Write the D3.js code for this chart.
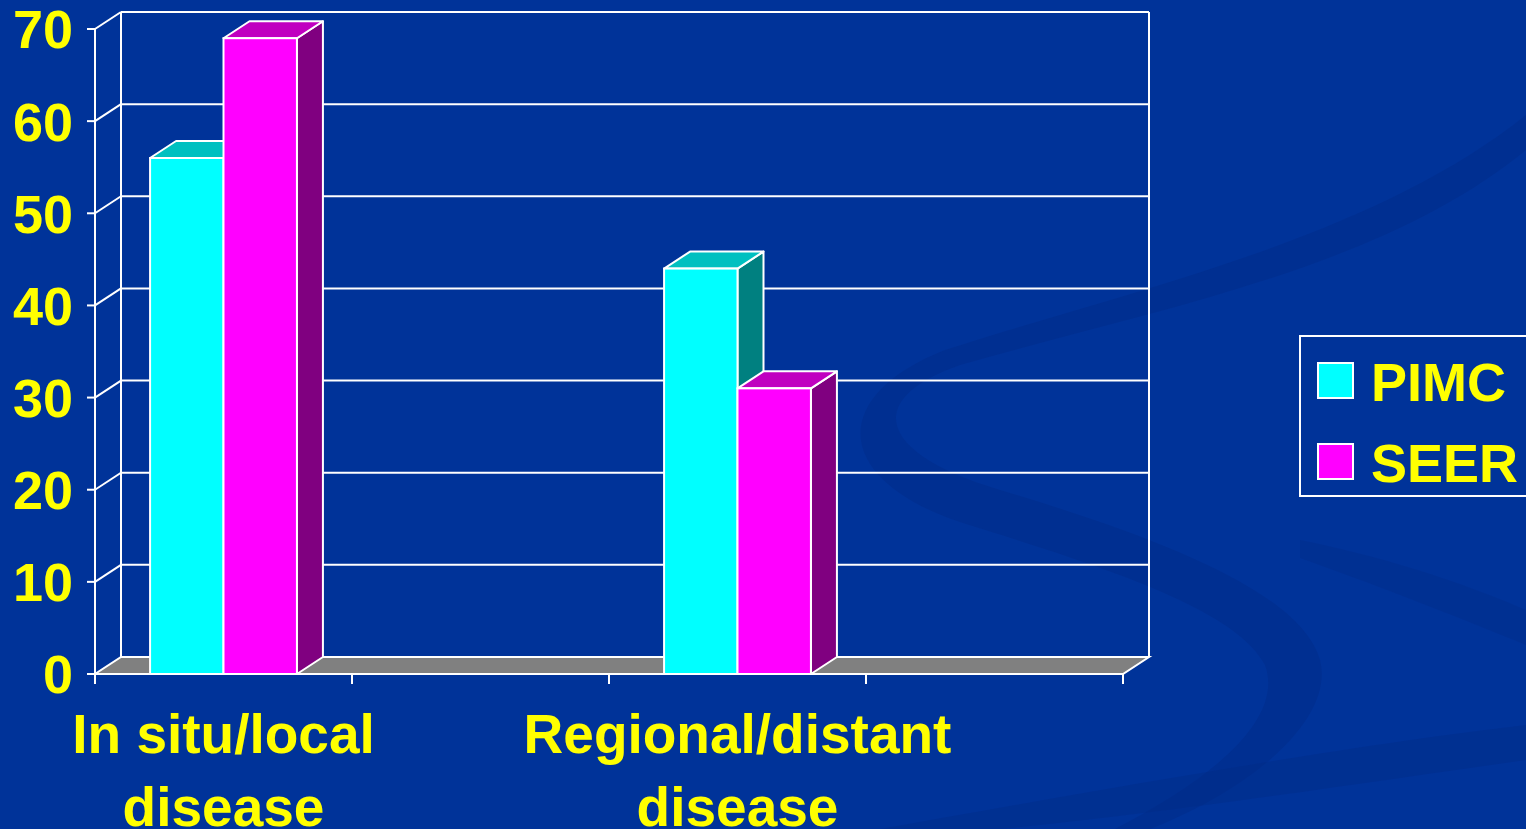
<!DOCTYPE html>
<html>
<head>
<meta charset="utf-8">
<script src="https://cdn.jsdelivr.net/npm/d3@7"></script>
<style>
  html, body { margin: 0; padding: 0; background: #003399; overflow: hidden; }
  svg { display: block; }
  text { font-family: "Liberation Sans", Arial, sans-serif; font-weight: bold; fill: #ffff00; }
</style>
</head>
<body>
<svg id="chart"></svg>
<script>
// data
var categories = ["In situ/local\ndisease", "", "Regional/distant\ndisease", ""];
var series = ["PIMC", "SEER"];
var pimc = [56, null, 44, null];
var seer = [69, null, 31, null];
var yTicks = [0, 10, 20, 30, 40, 50, 60, 70];

var width = 1526, height = 829;

var svg = d3.select("#chart")
    .attr("width", width)
    .attr("height", height);

// background swooshes (template decoration)
var bg = svg.append("g");
bg.append("rect").attr("width", width).attr("height", height).attr("fill", "#003399");
bg.append("path")
    .attr("d", "M1526,150 C1380,270 1150,310 960,365 C860,400 880,455 1000,490 C1150,535 1300,590 1320,660 C1335,720 1250,790 1150,829 L1115,829 C1210,780 1285,720 1265,665 C1235,605 1080,560 960,522 C830,478 830,395 945,350 C1130,290 1370,240 1526,115 Z")
    .attr("fill", "#002b85").attr("opacity", 0.4);
bg.append("path")
    .attr("d", "M880,829 C1100,790 1350,745 1526,725 L1526,760 C1350,785 1150,815 1000,829 Z")
    .attr("fill", "#002b85").attr("opacity", 0.35);
bg.append("path")
    .attr("d", "M1300,540 C1400,560 1480,590 1526,610 L1526,645 C1470,622 1390,590 1300,558 Z")
    .attr("fill", "#002b85").attr("opacity", 0.3);

// scales
var x0 = d3.scaleBand()
    .domain(d3.range(categories.length))
    .range([95, 1123])
    .padding(0);

var x1 = d3.scaleBand()
    .domain(series)
    .range([0, x0.bandwidth()])
    .paddingInner(0)
    .paddingOuter(0.75);

var y = d3.scaleLinear()
    .domain([0, 70])
    .range([674, 29]);

var dx = 26, dy = -17;   // depth of the 3d box
var xl = x0.range()[0], xr = x0.range()[1];

var color = { PIMC: { front: "#00ffff", top: "#00c0c0", side: "#008080" },
              SEER: { front: "#ff00ff", top: "#c000c0", side: "#800080" } };

var line = { stroke: "#ffffff", "stroke-width": 2, fill: "none" };
function styl(sel, o) { for (var k in o) sel.attr(k, o[k]); return sel; }

// side wall diagonals + back wall gridlines
var walls = svg.append("g");
yTicks.forEach(function(t) {
    if (t > 0) {
        styl(walls.append("line"), line)
            .attr("x1", xl).attr("y1", y(t))
            .attr("x2", xl + dx).attr("y2", y(t) + dy);
    }
    styl(walls.append("line"), line)
        .attr("x1", xl + dx).attr("y1", y(t) + dy)
        .attr("x2", xr + dx).attr("y2", y(t) + dy);
});
styl(walls.append("line"), line)
    .attr("x1", xl + dx).attr("y1", y(0) + dy)
    .attr("x2", xl + dx).attr("y2", y(70) + dy);
styl(walls.append("line"), line)
    .attr("x1", xr + dx).attr("y1", y(0) + dy)
    .attr("x2", xr + dx).attr("y2", y(70) + dy);

// floor
svg.append("path")
    .attr("d", "M" + xl + "," + y(0) + "L" + xr + "," + y(0) + "L" + (xr + dx) + "," + (y(0) + dy) + "L" + (xl + dx) + "," + (y(0) + dy) + "Z")
    .attr("fill", "#808080")
    .attr("stroke", "#ffffff").attr("stroke-width", 2);

// bars
var bars = [];
categories.forEach(function(c, i) {
    [pimc[i], seer[i]].forEach(function(v, j) {
        if (v != null) bars.push({ cat: i, s: series[j], v: v });
    });
});

var gBars = svg.append("g");
bars.forEach(function(d) {
    var bx = x0(d.cat) + x1(d.s), bw = x1.bandwidth();
    var top = y(d.v), bot = y(0);
    var g = gBars.append("g");
    g.append("path")
        .attr("d", "M" + (bx + bw) + "," + bot + "L" + (bx + bw + dx) + "," + (bot + dy) + "L" + (bx + bw + dx) + "," + (top + dy) + "L" + (bx + bw) + "," + top + "Z")
        .attr("fill", color[d.s].side).attr("stroke", "#ffffff").attr("stroke-width", 2).attr("stroke-linejoin", "round");
    g.append("path")
        .attr("d", "M" + bx + "," + top + "L" + (bx + dx) + "," + (top + dy) + "L" + (bx + bw + dx) + "," + (top + dy) + "L" + (bx + bw) + "," + top + "Z")
        .attr("fill", color[d.s].top).attr("stroke", "#ffffff").attr("stroke-width", 2).attr("stroke-linejoin", "round");
    g.append("rect")
        .attr("x", bx).attr("y", top)
        .attr("width", bw).attr("height", bot - top)
        .attr("fill", color[d.s].front).attr("stroke", "#ffffff").attr("stroke-width", 2);
});

// front axes
var axes = svg.append("g");
styl(axes.append("line"), line)
    .attr("x1", xl).attr("y1", y(0) + 10).attr("x2", xl).attr("y2", y(70));
styl(axes.append("line"), line)
    .attr("x1", xl).attr("y1", y(0)).attr("x2", xr).attr("y2", y(0));
yTicks.forEach(function(t) {
    styl(axes.append("line"), line)
        .attr("x1", xl - 8).attr("y1", y(t)).attr("x2", xl).attr("y2", y(t));
    axes.append("text")
        .attr("x", 73).attr("y", y(t)).attr("dy", "0.36em")
        .attr("text-anchor", "end")
        .style("font-size", "54px")
        .text(t);
});
d3.range(categories.length + 1).forEach(function(i) {
    var tx = i < categories.length ? x0(i) : xr;
    styl(axes.append("line"), line)
        .attr("x1", tx).attr("y1", y(0)).attr("x2", tx).attr("y2", y(0) + 10);
});

// category labels (second line runs off the bottom, as on the slide)
categories.forEach(function(c, i) {
    if (!c) return;
    var t = axes.append("text")
        .attr("x", x0(i) + x0.bandwidth() / 2)
        .attr("y", 753)
        .attr("text-anchor", "middle")
        .style("font-size", "55px");
    c.split("\n").forEach(function(part, k) {
        t.append("tspan")
            .attr("x", x0(i) + x0.bandwidth() / 2)
            .attr("dy", k == 0 ? 0 : 73)
            .text(part);
    });
});

// legend
var lg = svg.append("g");
lg.append("rect")
    .attr("x", 1300).attr("y", 336).attr("width", 240).attr("height", 160)
    .attr("fill", "none").attr("stroke", "#ffffff").attr("stroke-width", 2);
series.forEach(function(s, i) {
    lg.append("rect")
        .attr("x", 1318).attr("y", 363 + i * 81)
        .attr("width", 35).attr("height", 35)
        .attr("fill", color[s].front).attr("stroke", "#ffffff").attr("stroke-width", 2);
    lg.append("text")
        .attr("x", 1371).attr("y", 401 + i * 81)
        .style("font-size", "54px")
        .text(s);
});
</script>
</body>
</html>
